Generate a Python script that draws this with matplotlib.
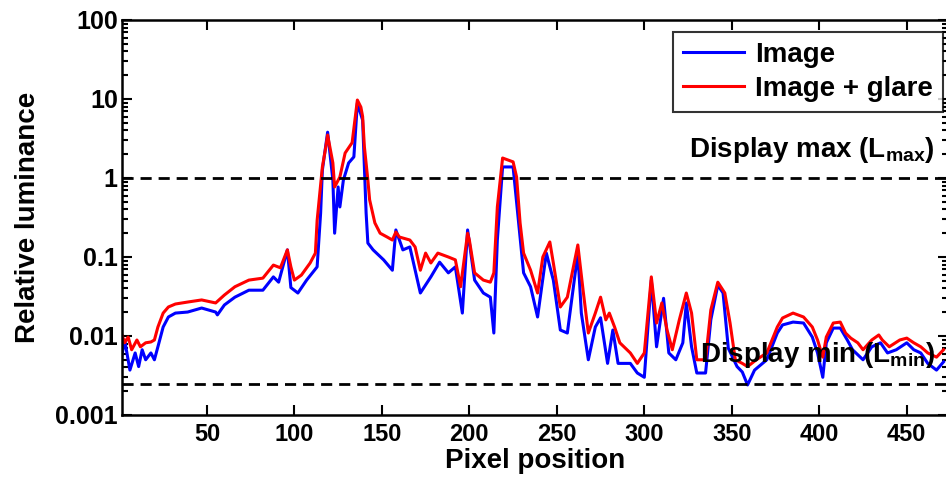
import matplotlib
matplotlib.use("Agg")
import matplotlib.pyplot as plt
from matplotlib.ticker import FixedLocator, LogLocator, NullFormatter
import numpy as np

plt.rcParams['font.family'] = ['Liberation Sans', 'DejaVu Sans']
plt.rcParams['font.weight'] = 'bold'
plt.rcParams['mathtext.fontset'] = 'custom'
plt.rcParams['mathtext.bf'] = 'Liberation Sans:bold'
plt.rcParams['mathtext.rm'] = 'Liberation Sans:bold'

# -- Data --
img_x = [1, 3, 6, 9, 11, 13, 15, 18, 20, 22, 25, 28, 32, 39, 47, 55, 56, 60, 66, 74,
         82, 88, 91, 96, 98, 102, 107, 113, 115, 116, 119, 122, 123, 125, 126, 128, 131,
         134, 136, 139, 141, 142, 145, 151, 156, 158, 162, 166, 172, 178, 183, 188, 192,
         196, 199, 203, 208, 212, 214, 216, 219, 225, 231, 235, 239, 244, 248, 252, 256,
         262, 264, 268, 272, 275, 279, 282, 285, 292, 296, 300, 304, 307, 311, 314, 318,
         322, 324, 327, 330, 335, 338, 342, 345, 348, 353, 356, 359, 363, 370, 376, 379,
         385, 391, 396, 399, 402, 404, 408, 412, 416, 419, 425, 430, 435, 439, 444, 450,
         454, 458, 462, 467, 471]
img_y = [0.005, 0.0089, 0.0037, 0.0061, 0.0041, 0.0067, 0.005, 0.0061, 0.005, 0.0073,
         0.013, 0.0174, 0.0195, 0.0201, 0.0226, 0.0201, 0.0185, 0.0247, 0.031, 0.038,
         0.038, 0.056, 0.048, 0.123, 0.041, 0.035, 0.051, 0.075, 0.36, 1.26, 3.8, 0.94,
         0.20, 0.77, 0.43, 0.94, 1.55, 1.85, 8.9, 5.4, 0.36, 0.15, 0.123, 0.092, 0.068,
         0.22, 0.123, 0.134, 0.035, 0.056, 0.086, 0.063, 0.075, 0.0195, 0.22, 0.051,
         0.035, 0.031, 0.0109, 0.164, 1.38, 1.38, 0.063, 0.042, 0.0174, 0.112, 0.051,
         0.0119, 0.0109, 0.112, 0.0195, 0.005, 0.013, 0.017, 0.0045, 0.0119, 0.0045,
         0.0045, 0.0034, 0.003, 0.051, 0.0073, 0.030, 0.0061, 0.005, 0.0082, 0.0262,
         0.0073, 0.0034, 0.0034, 0.016, 0.044, 0.035, 0.007, 0.0041, 0.0035, 0.0024,
         0.0037, 0.005, 0.0109, 0.0138, 0.015, 0.0146, 0.0097, 0.0061, 0.003, 0.0082,
         0.0126, 0.0126, 0.0089, 0.0067, 0.005, 0.0073, 0.0082, 0.0061, 0.0067, 0.0082,
         0.0067, 0.0061, 0.0045, 0.0037, 0.0047]

glare_x = [1, 3, 5, 7, 10, 12, 15, 18, 20, 22, 25, 28, 32, 39, 47, 55, 60, 66, 74, 82,
           88, 92, 96, 98, 100, 104, 109, 112, 113, 116, 118, 119, 122, 123, 126, 129,
           133, 136, 138, 139, 140, 142, 143, 146, 149, 153, 156, 158, 160, 166, 169,
           172, 175, 178, 182, 188, 192, 195, 199, 200, 203, 208, 212, 214, 216, 219,
           225, 227, 229, 231, 235, 239, 242, 246, 248, 252, 256, 262, 265, 268, 272,
           275, 278, 280, 283, 286, 292, 296, 300, 304, 307, 310, 313, 316, 320, 324,
           327, 330, 335, 338, 342, 346, 349, 352, 356, 359, 364, 370, 376, 379, 385,
           391, 396, 399, 402, 404, 408, 412, 415, 418, 422, 425, 430, 434, 436, 440,
           446, 450, 454, 458, 462, 467, 471]
glare_y = [0.011, 0.0082, 0.0097, 0.0067, 0.0089, 0.0073, 0.0082, 0.0084, 0.0089, 0.013,
           0.0195, 0.0233, 0.0254, 0.0269, 0.0286, 0.0262, 0.033, 0.042, 0.051, 0.054,
           0.079, 0.073, 0.123, 0.075, 0.051, 0.059, 0.084, 0.112, 0.29, 1.38, 2.5, 3.5,
           1.55, 0.77, 1.03, 2.07, 2.8, 9.7, 7.9, 6.0, 2.5, 0.94, 0.53, 0.27, 0.20,
           0.179, 0.164, 0.207, 0.179, 0.164, 0.134, 0.068, 0.112, 0.084, 0.112, 0.100,
           0.092, 0.042, 0.20, 0.164, 0.063, 0.051, 0.048, 0.063, 0.43, 1.79, 1.6, 1.03,
           0.27, 0.112, 0.068, 0.035, 0.100, 0.155, 0.084, 0.0233, 0.031, 0.142, 0.038,
           0.0109, 0.0195, 0.031, 0.016, 0.0195, 0.013, 0.0082, 0.0061, 0.0045, 0.0061,
           0.056, 0.0146, 0.0262, 0.0119, 0.0067, 0.016, 0.035, 0.0195, 0.005, 0.005,
           0.0213, 0.048, 0.035, 0.0146, 0.005, 0.0045, 0.0041, 0.005, 0.0061, 0.013,
           0.0169, 0.0195, 0.0174, 0.013, 0.0089, 0.0054, 0.0097, 0.0146, 0.015, 0.0109,
           0.0094, 0.0082, 0.0067, 0.0089, 0.0103, 0.0089, 0.0073, 0.0089, 0.0094,
           0.0082, 0.0073, 0.0061, 0.0054, 0.0067]

display_max = 1.0
display_min = 0.0025
x_ticks = [50, 100, 150, 200, 250, 300, 350, 400, 450]
y_ticks = [0.001, 0.01, 0.1, 1, 10, 100]
y_tick_labels = ['0.001', '0.01', '0.1', '1', '10', '100']

fig = plt.figure(figsize=(9.46, 4.83), dpi=100)
ax = fig.add_axes([0.129, 0.1408, 0.873, 0.8178])

ax.plot(img_x, img_y, color='#0000ff', lw=2.2, label='Image')
ax.plot(glare_x, glare_y, color='#ff0000', lw=2.2, label='Image + glare')
ax.axhline(display_max, color='black', lw=2, dashes=(4, 2.5))
ax.axhline(display_min, color='black', lw=2, dashes=(4, 2.5))

ax.set_yscale('log')
ax.set_xlim(1.5, 473.5)
ax.set_ylim(0.001, 100)

ax.xaxis.set_major_locator(FixedLocator(x_ticks))
ax.yaxis.set_major_locator(FixedLocator(y_ticks))
ax.yaxis.set_minor_locator(LogLocator(base=10, subs=np.arange(2, 10)))
ax.yaxis.set_minor_formatter(NullFormatter())
ax.set_yticklabels(y_tick_labels)

ax.tick_params(axis='both', which='both', direction='in', top=True, right=True, width=1.5)
ax.tick_params(axis='both', which='major', length=7)
ax.tick_params(axis='y', which='minor', length=4)
ax.tick_params(axis='y', labelsize=18, pad=3)
ax.tick_params(axis='x', labelsize=17, pad=6)
for sp in ax.spines.values():
    sp.set_linewidth(1.8)

ax.set_xlabel('Pixel position', fontsize=20, fontweight='bold', labelpad=1)
ax.set_ylabel('Relative luminance', fontsize=20, fontweight='bold', labelpad=10)

ax.text(466, 1.85, r'Display max ($\mathbf{L_{max}}$)', ha='right', va='baseline',
        fontsize=20, fontweight='bold')
ax.text(466, 0.0047, r'Display min ($\mathbf{L_{min}}$)', ha='right', va='baseline',
        fontsize=20, fontweight='bold')

leg = ax.legend(loc='upper right', bbox_to_anchor=(0.994, 0.97), fontsize=20,
                handlelength=2.2, frameon=True, fancybox=False, borderpad=0.35,
                labelspacing=0.3, handletextpad=0.4, borderaxespad=0)
leg.get_frame().set_edgecolor('black')
leg.get_frame().set_linewidth(1.5)
for t in leg.get_texts():
    t.set_fontweight('bold')

fig.savefig('out.png', dpi=100)
